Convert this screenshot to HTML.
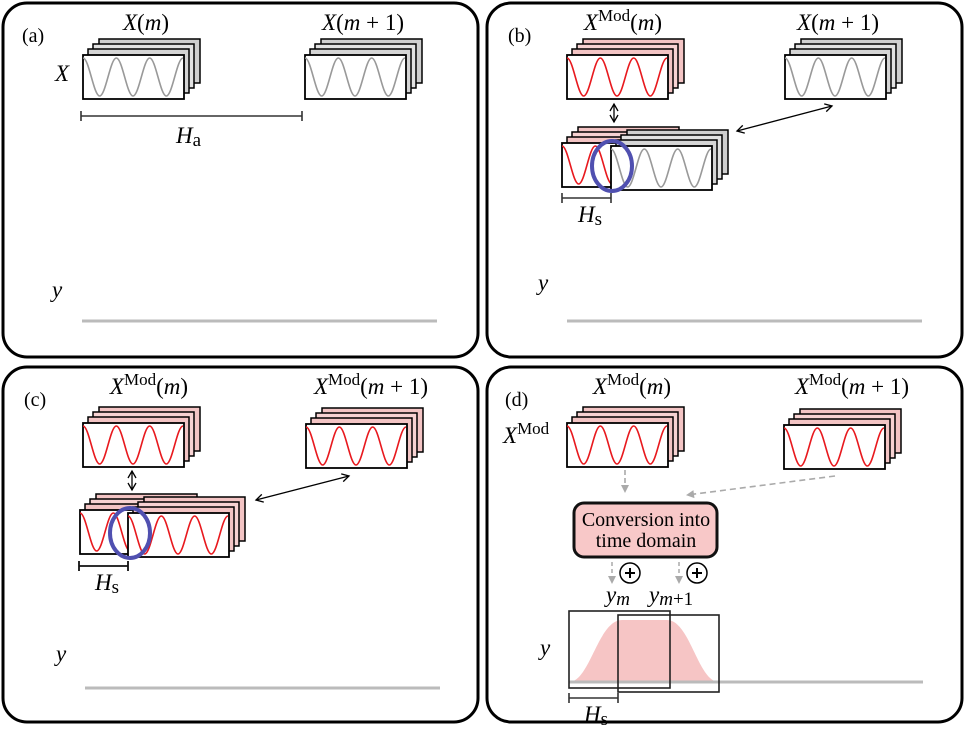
<!DOCTYPE html>
<html><head><meta charset="utf-8"><style>
html,body{margin:0;padding:0;background:#fff;}
svg{display:block;}
text{font-family:"Liberation Serif",serif;fill:#000;}
.t{font-size:23px;}
.i{font-style:italic;}
.r{font-size:20px;}
</style></head><body>
<svg width="965" height="729" viewBox="0 0 965 729" xmlns="http://www.w3.org/2000/svg">
<defs>
<path id="sine" d="M0,3 C6,3 10.67,41 16.67,41 S27.33,3 33.33,3 S44,41 50,41 S60.67,3 66.67,3 S77.33,41 83.33,41 S94,3 100,3" fill="none" stroke-width="1.6"/>
<g id="gstack">
<rect x="16" y="-16" width="101" height="44" fill="#cfcfcf" stroke="#000" stroke-width="1.5"/>
<rect x="10" y="-11" width="101" height="44" fill="#e2e2e2" stroke="#000" stroke-width="1.5"/>
<rect x="5" y="-6" width="101" height="44" fill="#d5d5d5" stroke="#000" stroke-width="1.5"/>
<rect x="0" y="0" width="101" height="44" fill="#fff" stroke="#000" stroke-width="1.8"/>
<use href="#sine" stroke="#999"/>
</g>
<g id="rstack">
<rect x="16" y="-16" width="101" height="44" fill="#f3c4c4" stroke="#000" stroke-width="1.5"/>
<rect x="10" y="-11" width="101" height="44" fill="#f7d2d2" stroke="#000" stroke-width="1.5"/>
<rect x="5" y="-6" width="101" height="44" fill="#f3c4c4" stroke="#000" stroke-width="1.5"/>
<rect x="0" y="0" width="101" height="44" fill="#fff" stroke="#000" stroke-width="1.8"/>
<use href="#sine" stroke="#e8191e"/>
</g>
<marker id="ah" markerWidth="10" markerHeight="10" refX="8" refY="5" orient="auto-start-reverse" markerUnits="userSpaceOnUse">
<path d="M1,1 L8,5 L1,9" fill="none" stroke="#000" stroke-width="1.3"/></marker>
<marker id="gh" markerWidth="10" markerHeight="10" refX="8" refY="5" orient="auto" markerUnits="userSpaceOnUse">
<path d="M1,1 L9,5 L1,9 Z" fill="#aaa"/></marker>
</defs>

<rect x="3" y="3" width="475" height="354" rx="24" fill="none" stroke="#000" stroke-width="3"/>
<rect x="487" y="3" width="475" height="354" rx="24" fill="none" stroke="#000" stroke-width="3"/>
<rect x="3" y="367" width="475" height="355" rx="24" fill="none" stroke="#000" stroke-width="3"/>
<rect x="487" y="367" width="475" height="355" rx="24" fill="none" stroke="#000" stroke-width="3"/>

<!-- (a) -->
<text x="22" y="42" class="r">(a)</text>
<text x="146" y="30" class="t" text-anchor="middle"><tspan class="i">X</tspan>(<tspan class="i">m</tspan>)</text>
<text x="363" y="30" class="t" text-anchor="middle"><tspan class="i">X</tspan>(<tspan class="i">m</tspan> + 1)</text>
<text x="55" y="81" class="t i">X</text>
<use href="#gstack" transform="translate(83,55)"/>
<use href="#gstack" transform="translate(305,55)"/>
<path d="M81,116 H302 M81,111 V121 M302,111 V121" stroke="#333" stroke-width="1.6"/>
<text x="176" y="143" class="t"><tspan class="i">H</tspan><tspan font-size="19" dy="3">a</tspan></text>
<text x="52" y="297" class="t i">y</text>
<line x1="82" y1="321" x2="437" y2="321" stroke="#bbb" stroke-width="3"/>

<!-- (b) -->
<text x="508" y="42" class="r">(b)</text>
<text x="623" y="30" class="t" text-anchor="middle"><tspan class="i">X</tspan><tspan font-size="17" dy="-9">Mod</tspan><tspan dy="9">(</tspan><tspan class="i">m</tspan>)</text>
<text x="838" y="30" class="t" text-anchor="middle"><tspan class="i">X</tspan>(<tspan class="i">m</tspan> + 1)</text>
<use href="#rstack" transform="translate(567,55)"/>
<use href="#gstack" transform="translate(785,55)"/>
<line x1="614" y1="104" x2="614" y2="122" stroke="#000" stroke-width="1.3" marker-start="url(#ah)" marker-end="url(#ah)"/>
<use href="#rstack" transform="translate(562,143)"/>
<use href="#gstack" transform="translate(611,146)"/>
<ellipse cx="612" cy="166" rx="20" ry="25" fill="none" stroke="#5050b0" stroke-width="4"/>
<line x1="737" y1="131" x2="832" y2="106" stroke="#000" stroke-width="1.3" marker-start="url(#ah)" marker-end="url(#ah)"/>
<path d="M562,198 H611 M562,193 V203 M611,193 V203" stroke="#333" stroke-width="1.6"/>
<text x="578" y="222" class="t"><tspan class="i">H</tspan><tspan font-size="19" dy="3">s</tspan></text>
<text x="538" y="290" class="t i">y</text>
<line x1="567" y1="321" x2="922" y2="321" stroke="#bbb" stroke-width="3"/>

<!-- (c) -->
<text x="24" y="406" class="r">(c)</text>
<text x="149" y="394" class="t" text-anchor="middle"><tspan class="i">X</tspan><tspan font-size="17" dy="-9">Mod</tspan><tspan dy="9">(</tspan><tspan class="i">m</tspan>)</text>
<text x="371" y="394" class="t" text-anchor="middle"><tspan class="i">X</tspan><tspan font-size="17" dy="-9">Mod</tspan><tspan dy="9">(</tspan><tspan class="i">m</tspan> + 1)</text>
<use href="#rstack" transform="translate(83,423)"/>
<use href="#rstack" transform="translate(306,424)"/>
<line x1="132" y1="471" x2="132" y2="490" stroke="#000" stroke-width="1.3" marker-start="url(#ah)" marker-end="url(#ah)"/>
<use href="#rstack" transform="translate(80,510)"/>
<use href="#rstack" transform="translate(128,513)"/>
<ellipse cx="130" cy="533" rx="20" ry="25" fill="none" stroke="#5050b0" stroke-width="4"/>
<line x1="256" y1="500" x2="349" y2="476" stroke="#000" stroke-width="1.3" marker-start="url(#ah)" marker-end="url(#ah)"/>
<path d="M79,566 H128 M79,561 V571 M128,561 V571" stroke="#111" stroke-width="1.8"/>
<text x="95" y="590" class="t"><tspan class="i">H</tspan><tspan font-size="19" dy="3">s</tspan></text>
<text x="56" y="661" class="t i">y</text>
<line x1="85" y1="688" x2="440" y2="688" stroke="#bbb" stroke-width="3"/>

<!-- (d) -->
<text x="505" y="406" class="r">(d)</text>
<text x="632" y="394" class="t" text-anchor="middle"><tspan class="i">X</tspan><tspan font-size="17" dy="-9">Mod</tspan><tspan dy="9">(</tspan><tspan class="i">m</tspan>)</text>
<text x="852" y="394" class="t" text-anchor="middle"><tspan class="i">X</tspan><tspan font-size="17" dy="-9">Mod</tspan><tspan dy="9">(</tspan><tspan class="i">m</tspan> + 1)</text>
<text x="503" y="443" class="t"><tspan class="i">X</tspan><tspan font-size="17" dy="-9">Mod</tspan></text>
<use href="#rstack" transform="translate(567,423)"/>
<use href="#rstack" transform="translate(784,425)"/>
<line x1="625" y1="470" x2="625" y2="492" stroke="#aaa" stroke-width="1.6" stroke-dasharray="5,3" marker-end="url(#gh)"/>
<line x1="835" y1="476" x2="687" y2="495" stroke="#aaa" stroke-width="1.6" stroke-dasharray="6,4" marker-end="url(#gh)"/>
<rect x="574" y="503" width="143" height="54" rx="10" fill="#f8c8c8" stroke="#111" stroke-width="3"/>
<text x="646" y="526" class="r" font-size="18" text-anchor="middle">Conversion into</text>
<text x="646" y="547" class="r" font-size="18" text-anchor="middle">time domain</text>
<line x1="612" y1="562" x2="612" y2="583" stroke="#aaa" stroke-width="1.5" stroke-dasharray="4,3" marker-end="url(#gh)"/>
<line x1="679" y1="562" x2="679" y2="583" stroke="#aaa" stroke-width="1.5" stroke-dasharray="4,3" marker-end="url(#gh)"/>
<circle cx="630" cy="573" r="10" fill="#fff" stroke="#000" stroke-width="1.5"/>
<path d="M625,573 H635 M630,568 V578" stroke="#000" stroke-width="2"/>
<circle cx="697" cy="573" r="10" fill="#fff" stroke="#000" stroke-width="1.5"/>
<path d="M692,573 H702 M697,568 V578" stroke="#000" stroke-width="2"/>
<text x="606" y="602" class="t"><tspan class="i">y</tspan><tspan class="i" font-size="19" dy="3">m</tspan></text>
<text x="649" y="602" class="t"><tspan class="i">y</tspan><tspan font-size="19" dy="3"><tspan class="i">m</tspan>+1</tspan></text>
<path d="M569,682 C590,682 598,620 622,620 L667,620 C690,620 698,682 719,682 Z" fill="#f6c5c5"/>
<line x1="569" y1="682" x2="923" y2="682" stroke="#bbb" stroke-width="3"/>
<rect x="569" y="611" width="101" height="77" fill="none" stroke="#222" stroke-width="1.6"/>
<rect x="618" y="615" width="101" height="77" fill="none" stroke="#222" stroke-width="1.6"/>
<text x="540" y="655" class="t i">y</text>
<path d="M569,698 H618 M569,693 V703 M618,693 V703" stroke="#333" stroke-width="1.6"/>
<text x="584" y="722" class="t"><tspan class="i">H</tspan><tspan font-size="19" dy="3">s</tspan></text>
</svg>
</body></html>
